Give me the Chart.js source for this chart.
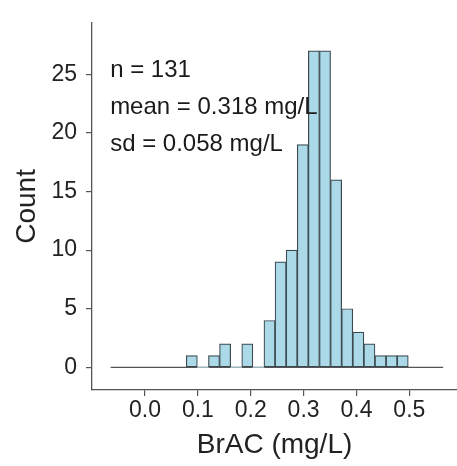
<!DOCTYPE html>
<html>
<head>
<meta charset="utf-8">
<script src="https://cdn.jsdelivr.net/npm/chart.js@4"></script>
<style>
    body { margin: 0; background: #fff; }
    canvas { display: block; }
</style>
</head>
<body>
<canvas id="chart" width="457" height="466"></canvas>
<script>
// histogram bins (centre of each 0.021 mg/L bin) and counts
const binCenters = [0.0885, 0.1095, 0.1305, 0.1515, 0.1725, 0.1935, 0.2145, 0.2355, 0.2565, 0.2775,
                    0.2985, 0.3195, 0.3405, 0.3615, 0.3825, 0.4035, 0.4245, 0.4455, 0.4665, 0.4875];
const counts = [1, 0, 1, 2, 0, 2, 0, 4, 9, 10, 19, 27, 27, 16, 5, 3, 2, 1, 1, 1];
const baselineX = [-0.065, 0.564];
const baselineY = [0, 0];
const xTicks = [0, 0.1, 0.2, 0.3, 0.4, 0.5];
const yTicks = [0, 5, 10, 15, 20, 25];
const statLines = ["n = 131", "mean = 0.318 mg/L", "sd = 0.058 mg/L"];

const FONT = "'Liberation Sans', Arial, Helvetica, sans-serif";

// stats text in the upper left of the plot
const statsText = {
    id: "statsText",
    afterDatasetsDraw(c) {
        const ctx = c.ctx;
        const x = c.scales.x.getPixelForValue(-0.066);
        ctx.save();
        ctx.font = "24px " + FONT;
        ctx.fillStyle = "#1a1a1a";
        ctx.textAlign = "left";
        ctx.textBaseline = "alphabetic";
        for (let i = 0; i < statLines.length; i++) {
            ctx.fillText(statLines[i], x, c.chartArea.top + 54 + i * 37);
        }
        ctx.restore();
    }
};

let chart = new Chart(document.getElementById("chart"), {
    type: "bar",
    data: {
        datasets: [
            {
                type: "line",
                data: baselineX.map((v, i) => ({ x: v, y: baselineY[i] })),
                borderColor: "#555",
                borderWidth: 1.2,
                pointRadius: 0,
                order: 2
            },
            {
                data: binCenters.map((v, i) => ({ x: v, y: counts[i] })),
                backgroundColor: "#abd9e8",
                borderColor: "#3c4a50",
                borderWidth: ctx => (ctx.raw && ctx.raw.y === 0 ? 0 : 1.2),
                borderSkipped: false,
                barPercentage: 1,
                categoryPercentage: 1,
                order: 1
            }
        ]
    },
    options: {
        responsive: false,
        animation: false,
        layout: { padding: { top: 12, right: 0, left: 0, bottom: 0 } },
        plugins: {
            legend: { display: false },
            tooltip: { enabled: false }
        },
        scales: {
            x: {
                type: "linear",
                min: -0.1003,
                max: 0.5902,
                offset: false,
                afterFit: s => { s.height = 76; },
                afterBuildTicks: s => { s.ticks = xTicks.map(v => ({ value: v })); },
                grid: { display: true, drawOnChartArea: false, offset: false, tickLength: 6, color: "#555", lineWidth: 1.2 },
                border: { display: true, color: "#555", width: 1.3 },
                ticks: {
                    color: "#222",
                    padding: 1,
                    maxRotation: 0,
                    font: { family: FONT, size: 23 },
                    callback: v => v.toFixed(1)
                },
                title: {
                    display: true,
                    text: "BrAC (mg/L)",
                    color: "#222",
                    font: { family: FONT, size: 28 },
                    padding: { top: 0, bottom: 4 }
                }
            },
            y: {
                min: -1.93,
                max: 29.39,
                afterFit: s => { s.width = 92; },
                afterBuildTicks: s => { s.ticks = yTicks.map(v => ({ value: v })); },
                grid: { display: true, drawOnChartArea: false, tickLength: 6, color: "#555", lineWidth: 1.2 },
                border: { display: true, color: "#555", width: 1.3 },
                ticks: {
                    color: "#222",
                    padding: 9,
                    font: { family: FONT, size: 23 }
                },
                title: {
                    display: true,
                    text: "Count",
                    color: "#222",
                    font: { family: FONT, size: 28 },
                    padding: { top: 10, bottom: 0 }
                }
            }
        }
    },
    plugins: [statsText]
});
</script>
</body>
</html>
